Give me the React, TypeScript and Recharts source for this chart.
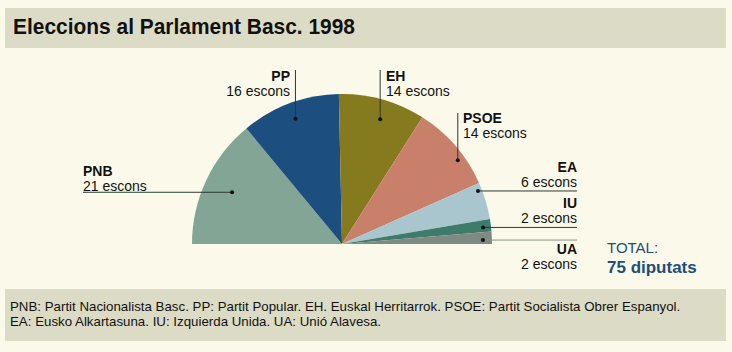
import { PieChart, Pie, Cell } from 'recharts';

const parties = ['PNB', 'PP', 'EH', 'PSOE', 'EA', 'IU', 'UA'];
const seats = [21, 16, 14, 14, 6, 2, 2];
const seatLabels = ['21 escons', '16 escons', '14 escons', '14 escons', '6 escons', '2 escons', '2 escons'];
const colors = ['#82a596', '#1c4f80', '#867a1e', '#c9806b', '#a9c6cf', '#3f7b6b', '#7e8a82'];
const footnoteLines = [
  'PNB: Partit Nacionalista Basc. PP: Partit Popular. EH. Euskal Herritarrok. PSOE: Partit Socialista Obrer Espanyol.',
  'EA: Eusko Alkartasuna. IU: Izquierda Unida. UA: Unió Alavesa.',
];

const data = parties.map((name, i) => ({ name, value: seats[i], label: seatLabels[i] }));

// hand placement of each label (text anchor, leader line end), like the print original
const labelLayout = [
  { rf: 0.81, da: 0, kind: 'left', tx: 83, ty: 176, lineTo: 83 },
  { rf: 0.89, da: 0, kind: 'up', tx: 290, ty: 81, anchor: 'end', lineTo: 70 },
  { rf: 0.87, da: -1.4, kind: 'up', tx: 386, ty: 81, anchor: 'start', lineTo: 70 },
  { rf: 0.953, da: -4.9, kind: 'up', tx: 463, ty: 123, anchor: 'start', lineTo: 113 },
  { rf: 0.973, da: 4.5, kind: 'right', tx: 577, ty: 172, lineTo: 577 },
  { rf: 0.947, da: -0.5, kind: 'right', tx: 577, ty: 208, lineTo: 577 },
  { rf: 0.94, da: -0.8, kind: 'right', tx: 577, ty: 254, lineTo: 577 },
];

const RAD = Math.PI / 180;
const font = 'Liberation Sans, Arial, Helvetica, sans-serif';

const renderLabel = (props: any) => {
  const { cx, cy, midAngle, outerRadius, index } = props;
  const l = labelLayout[index];
  const a = (midAngle + l.da) * RAD;
  const r = outerRadius * l.rf;
  const x = cx + r * Math.cos(a);
  const y = cy - r * Math.sin(a);
  const lineColor = index === 6 ? '#8a948c' : '#2a3a34';
  let line;
  let anchor = 'start';
  if (l.kind === 'up') {
    line = <line x1={x} y1={y} x2={x} y2={l.lineTo} stroke={lineColor} strokeWidth={1} />;
    anchor = l.anchor;
  } else {
    line = <line x1={x} y1={y} x2={l.lineTo} y2={y} stroke={lineColor} strokeWidth={1} />;
    anchor = l.kind === 'right' ? 'end' : 'start';
  }
  return (
    <g key={`lbl-${index}`}>
      {line}
      <circle cx={x} cy={y} r={2} fill="#111" />
      <text x={l.tx} y={l.ty} textAnchor={anchor} fontFamily={font} fontSize={14} fontWeight="bold" fill="#111">
        {data[index].name}
      </text>
      <text x={l.tx} y={l.ty + 14.5} textAnchor={anchor} fontFamily={font} fontSize={14} fill="#111">
        {data[index].label}
      </text>
    </g>
  );
};

export default function App() {
  return (
    <div style={{ position: 'absolute', left: 0, top: 0, width: 732, height: 352, background: '#fbfaea', overflow: 'hidden' }}>
      <div style={{ position: 'absolute', left: 5, top: 8, width: 721, height: 40, background: '#dcdcc6' }} />
      <div
        style={{
          position: 'absolute', left: 13, top: 14, fontFamily: 'Liberation Sans, Arial, sans-serif',
          fontWeight: 'bold', fontSize: 22.5, color: '#111', whiteSpace: 'nowrap',
          transform: 'scaleX(0.93)', transformOrigin: 'left top',
        }}
      >
        Eleccions al Parlament Basc. 1998
      </div>
      <div style={{ position: 'absolute', left: 5, top: 289, width: 721, height: 52, background: '#dcdcc6' }} />
      <div style={{ position: 'absolute', left: 10, top: 299, fontFamily: font, fontSize: 13.3, lineHeight: '15px', color: '#111', whiteSpace: 'nowrap' }}>
        {footnoteLines.map((t) => (
          <div key={t}>{t}</div>
        ))}
      </div>
      <div style={{ position: 'absolute', left: 0, top: 0 }}>
        <PieChart width={732} height={352} margin={{ top: 0, right: 0, bottom: 0, left: 0 }}>
          <Pie
            data={data}
            dataKey="value"
            nameKey="name"
            cx={342}
            cy={244}
            startAngle={180}
            endAngle={0}
            innerRadius={0}
            outerRadius={150}
            stroke="none"
            label={renderLabel}
            labelLine={false}
            isAnimationActive={false}
          >
            {data.map((d, i) => (
              <Cell key={d.name} fill={colors[i]} />
            ))}
          </Pie>
          <text x={607} y={253} fontFamily={font} fontSize={15} fill="#1f4e79">TOTAL:</text>
          <text x={607} y={273} fontFamily={font} fontSize={17} fontWeight="bold" fill="#1f4e79">75 diputats</text>
        </PieChart>
      </div>
    </div>
  );
}
